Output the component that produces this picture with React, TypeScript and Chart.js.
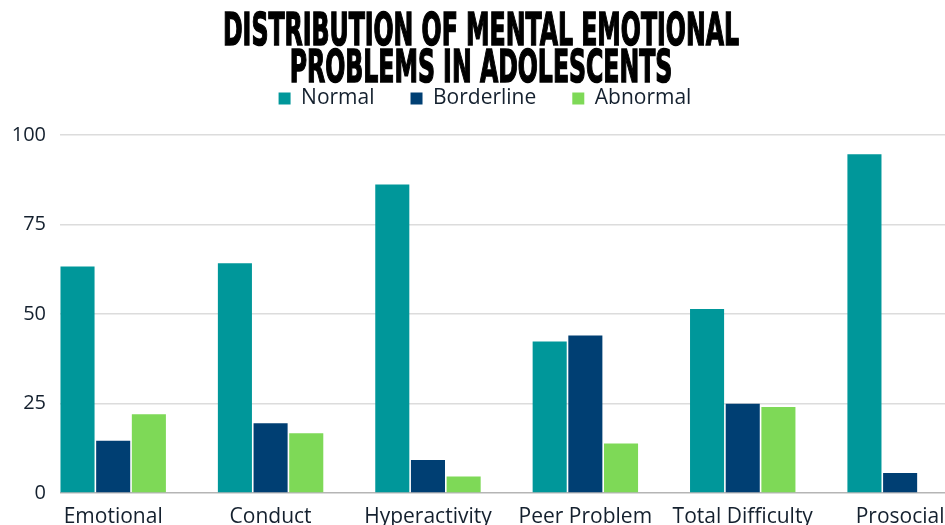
import React, { useEffect, useRef } from "react";
import { Chart, registerables } from "chart.js";

Chart.register(...registerables);

const titleLines = ["DISTRIBUTION OF MENTAL EMOTIONAL", "PROBLEMS IN ADOLESCENTS"];
const categories = ["Emotional", "Conduct", "Hyperactivity", "Peer Problem", "Total Difficulty", "Prosocial"];
const normal = [63.3, 64.2, 86.2, 42.3, 51.4, 94.6];
const borderline = [14.6, 19.5, 9.2, 44.0, 24.9, 5.6];
const abnormal = [22.0, 16.7, 4.6, 13.8, 24.0, 0];
const yTicks = [0, 25, 50, 75, 100];

const seriesNames = ["Normal", "Borderline", "Abnormal"];
const seriesColors = ["#00979A", "#003F73", "#7ED957"];

const titlePlugin = {
  id: "condensedTitle",
  afterDraw(chart: any) {
    const { ctx } = chart;
    ctx.save();
    ctx.font = 'bold 44px "DejaVu Sans"';
    ctx.fillStyle = "#000";
    ctx.strokeStyle = "#000";
    ctx.lineWidth = 1.6;
    ctx.textAlign = "center";
    ctx.textBaseline = "alphabetic";
    const w = ctx.measureText(titleLines[0]).width;
    const sx = 516 / w;
    const baselines = [45, 82];
    titleLines.forEach((line, i) => {
      ctx.save();
      ctx.translate(481, baselines[i]);
      ctx.scale(sx, 1);
      ctx.fillText(line, 0, 0);
      ctx.strokeText(line, 0, 0);
      ctx.restore();
    });
    ctx.restore();
  },
};

export default function App() {
  const ref = useRef<HTMLCanvasElement | null>(null);

  useEffect(() => {
    if (!ref.current) return;
    const series = [normal, borderline, abnormal];
    const chart = new Chart(ref.current, {
      type: "bar",
      data: {
        datasets: series.map((vals, k) => ({
          label: seriesNames[k],
          data: vals.map((v, i) => ({ x: i, y: v })),
          backgroundColor: seriesColors[k],
          borderWidth: 0,
          categoryPercentage: 0.68,
          barPercentage: 0.955,
        })),
      },
      plugins: [titlePlugin],
      options: {
        animation: false,
        responsive: true,
        maintainAspectRatio: false,
        layout: { padding: { top: 52, left: 0, right: 0, bottom: 0 } },
        plugins: {
          title: { display: false },
          tooltip: { enabled: false },
          legend: {
            display: true,
            position: "top",
            labels: {
              boxWidth: 12,
              boxHeight: 12,
              padding: 36,
              color: "#14202e",
              font: { family: '"Open Sans"', size: 21, weight: "500" },
            },
          },
        },
        scales: {
          x: {
            type: "linear",
            offset: false,
            min: -0.338,
            max: 5.444,
            grid: { display: false, offset: false },
            border: { display: false },
            afterBuildTicks: (s: any) => {
              s.ticks = categories.map((_, i) => ({ value: i }));
            },
            afterFit: (s: any) => {
              s.height = 32;
            },
            ticks: {
              autoSkip: false,
              maxRotation: 0,
              padding: 3,
              color: "#14202e",
              font: { family: '"Open Sans"', size: 21, weight: "500" },
              callback: (v: any) => categories[Math.round(Number(v))] ?? "",
            },
          },
          xTop: {
            type: "linear",
            position: "top",
            display: true,
            offset: false,
            grid: { display: false },
            border: { display: false },
            ticks: { display: false },
            afterFit: (s: any) => {
              s.height = 16;
            },
          },
          y: {
            min: 0,
            max: 100,
            border: { display: false },
            afterBuildTicks: (s: any) => {
              s.ticks = yTicks.map((v) => ({ value: v }));
            },
            afterFit: (s: any) => {
              s.width = 60;
            },
            grid: {
              drawTicks: false,
              lineWidth: 1.5,
              color: (c: any) => (c.tick && c.tick.value === 0 ? "#b5b5b5" : "#dcdcdc"),
            },
            ticks: {
              padding: 14,
              color: "#14202e",
              font: { family: '"Open Sans"', size: 20, weight: "500" },
            },
          },
        },
      },
    });
    return () => chart.destroy();
  }, []);

  return (
    <div style={{ position: "fixed", left: 0, top: 0, width: 970, height: 525, background: "#fff" }}>
      <canvas ref={ref} />
    </div>
  );
}
